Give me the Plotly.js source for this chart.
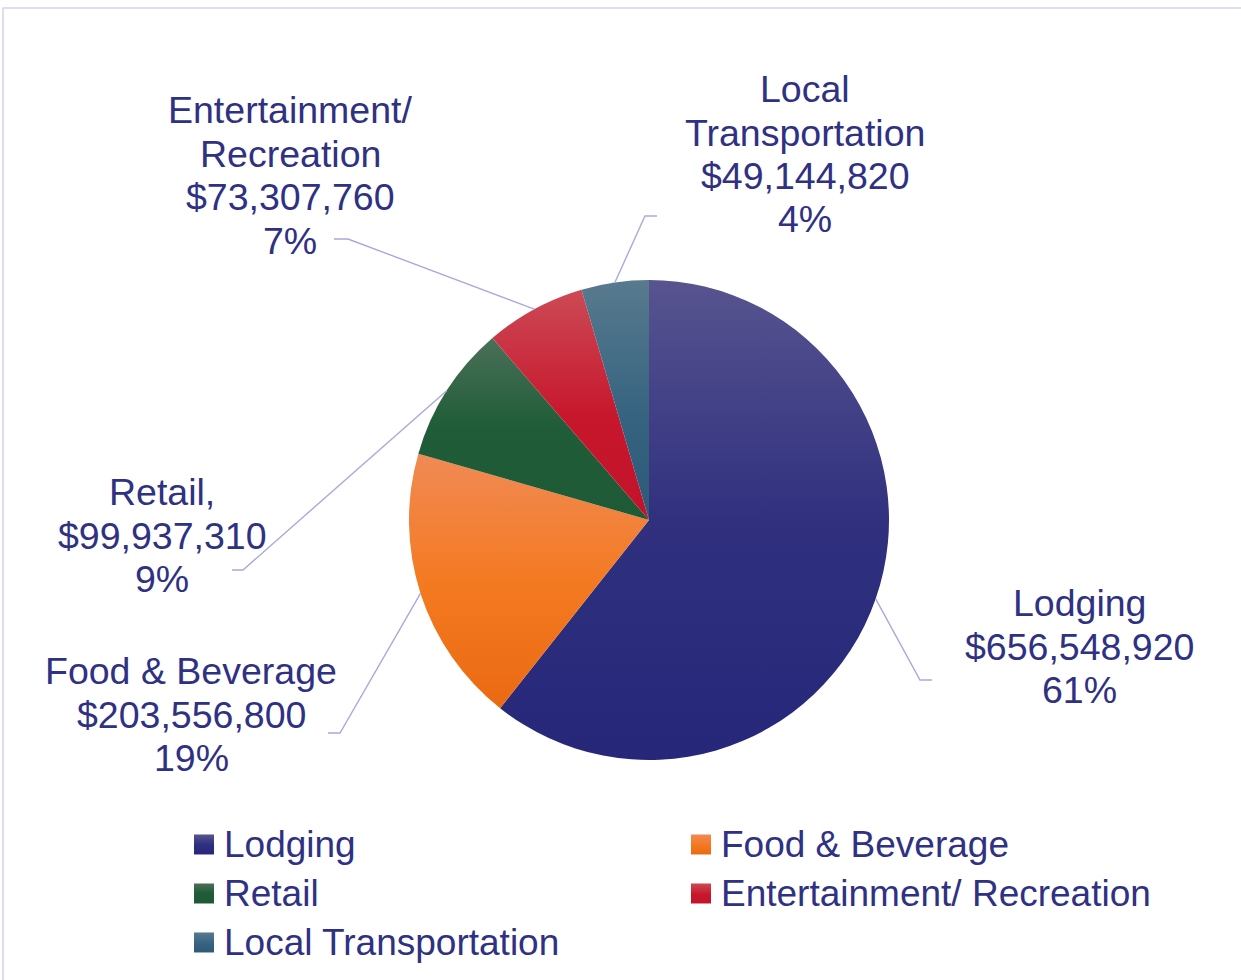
<!DOCTYPE html>
<html><head><meta charset="utf-8">
<script src="https://cdn.plot.ly/plotly-3.0.1.min.js"></script>
<style>html,body{margin:0;padding:0;background:#fff;overflow:hidden}</style>
</head><body><div id="chart" style="width:1241px;height:980px"></div>
<script>
// ---- data ----
const categories = ["Lodging", "Food & Beverage", "Retail", "Entertainment/ Recreation", "Local Transportation"];
const values = [656548920, 203556800, 99937310, 73307760, 49144820];
const percentLabels = ["61%", "19%", "9%", "7%", "4%"];
const nameLines = [["Lodging"], ["Food & Beverage"], ["Retail,"], ["Entertainment/", "Recreation"], ["Local", "Transportation"]];

// ---- style / layout ----
const colors = ["#33338a", "#f37a22", "#1f5c37", "#c7172d", "#3b6580"];
// top -> bottom gradient stops for each slice (Office-style shading)
const gradients = [
  [[0, "#57548f"], [0.5, "#30307f"], [1, "#262779"]],
  [[0, "#f08a55"], [0.5, "#f47a22"], [1, "#ea6a12"]],
  [[0, "#4a7058"], [0.5, "#1f5c37"], [1, "#1d5a35"]],
  [[0, "#cc4a55"], [0.55, "#c7172d"], [1, "#c3132a"]],
  [[0, "#587a8e"], [0.6, "#34627f"], [1, "#2d5a78"]]
];
const W = 1241, H = 980, CX = 649, CY = 520, R = 240;
const textColor = "#2f3182";
const font = "Liberation Sans, Arial, sans-serif";
const labelPos = [[1079, 603], [191, 671], [162, 492], [290, 110], [805, 89]];
const elbows = [[[920, 680], [932, 680]], [[340, 733], [328, 733]], [[243, 570], [232, 570]], [[348, 239], [334, 239]], [[645, 216], [657, 216]]];
const lineGap = 43.5;
const legendRowGap = 49;

const px = x => x / W, py = y => 1 - y / H;

const total = values.reduce((a, b) => a + b, 0);
const annotations = [];
const shapes = [];
let cum = 0;
values.forEach((v, i) => {
  const mid = (cum + v / 2) / total * 2 * Math.PI;
  cum += v;
  const ex = CX + R * Math.sin(mid), ey = CY - R * Math.cos(mid);
  const lines = nameLines[i].concat(["$" + v.toLocaleString("en-US"), percentLabels[i]]);
  lines.forEach((t, k) => {
    annotations.push({
      xref: "paper", yref: "paper", x: px(labelPos[i][0]), y: py(labelPos[i][1] + k * lineGap),
      xanchor: "center", yanchor: "middle", showarrow: false, text: t,
      font: {family: font, size: 37.5, color: textColor}
    });
  });
  const e = elbows[i];
  shapes.push({
    type: "path", xref: "paper", yref: "paper",
    path: `M${px(ex)},${py(ey)} L${px(e[0][0])},${py(e[0][1])} L${px(e[1][0])},${py(e[1][1])}`,
    line: {color: "#a9a9dc", width: 1.4}
  });
});
// chart area border
shapes.push({type: "rect", xref: "paper", yref: "paper", x0: px(3), x1: 1.2, y0: -0.2, y1: py(8),
  line: {color: "#d6d2ec", width: 1.5}, fillcolor: "rgba(0,0,0,0)", layer: "below"});

const trace = {
  type: "pie", labels: categories, values: values, sort: false, direction: "clockwise", rotation: 0,
  marker: {colors: colors, line: {width: 0}}, textinfo: "none", hoverinfo: "none",
  domain: {x: [px(CX - R), px(CX + R)], y: [py(CY + R), py(CY - R)]}
};

const layout = {
  width: W, height: H, margin: {l: 0, r: 0, t: 0, b: 0, autoexpand: false},
  paper_bgcolor: "#ffffff", showlegend: true,
  legend: {orientation: "h", x: px(184), y: py(812), xanchor: "left", yanchor: "top",
    entrywidth: 452, entrywidthmode: "pixels", traceorder: "normal",
    font: {family: font, size: 37, color: textColor}},
  annotations: annotations, shapes: shapes
};

Plotly.newPlot("chart", [trace], layout, {staticPlot: true}).then(() => {
  const svg = document.querySelector("#chart svg.main-svg");
  const NS = "http://www.w3.org/2000/svg";
  const defs = document.createElementNS(NS, "defs");
  gradients.forEach((stops, i) => {
    const lg = document.createElementNS(NS, "linearGradient");
    lg.setAttribute("id", "sliceGrad" + i);
    lg.setAttribute("x1", "0"); lg.setAttribute("y1", "0");
    lg.setAttribute("x2", "0"); lg.setAttribute("y2", "1");
    stops.forEach(([o, c]) => {
      const s = document.createElementNS(NS, "stop");
      s.setAttribute("offset", o); s.setAttribute("stop-color", c);
      lg.appendChild(s);
    });
    defs.appendChild(lg);
  });
  svg.insertBefore(defs, svg.firstChild);
  document.querySelectorAll(".slice path.surface").forEach((p, i) => {
    p.style.fill = `url(#sliceGrad${i})`;
  });

  // legend: tighter row pitch and larger square keys
  const items = Array.from(document.querySelectorAll(".legend .traces"));
  const parse = g => {
    const m = /translate\(\s*([-\d.]+)[ ,]+([-\d.]+)/.exec(g.getAttribute("transform") || "");
    return m ? [parseFloat(m[1]), parseFloat(m[2])] : [0, 0];
  };
  const ys = Array.from(new Set(items.map(g => parse(g)[1]))).sort((a, b) => a - b);
  items.forEach(g => {
    const [x, y] = parse(g);
    const row = ys.indexOf(y);
    g.setAttribute("transform", `translate(${x},${ys[0] + row * legendRowGap})`);
  });
  items.forEach((g, i) => {
    const p = g.querySelector(".legendpoints path");
    const t = g.querySelector(".legendtext");
    if (!p || !t) return;
    p.removeAttribute("transform");
    const bb = p.getBBox();
    const pr = p.getBoundingClientRect(), tr = t.getBoundingClientRect();
    const wantX = tr.left - 20, wantY = tr.top + tr.height / 2;
    const cx = bb.x + bb.width / 2 + (wantX - (pr.left + pr.width / 2));
    const cy = bb.y + bb.height / 2 + (wantY - (pr.top + pr.height / 2));
    p.setAttribute("d", `M${cx - 10},${cy - 10}h20v20h-20Z`);
    p.style.fill = `url(#sliceGrad${i})`;
  });
});
</script></body></html>
